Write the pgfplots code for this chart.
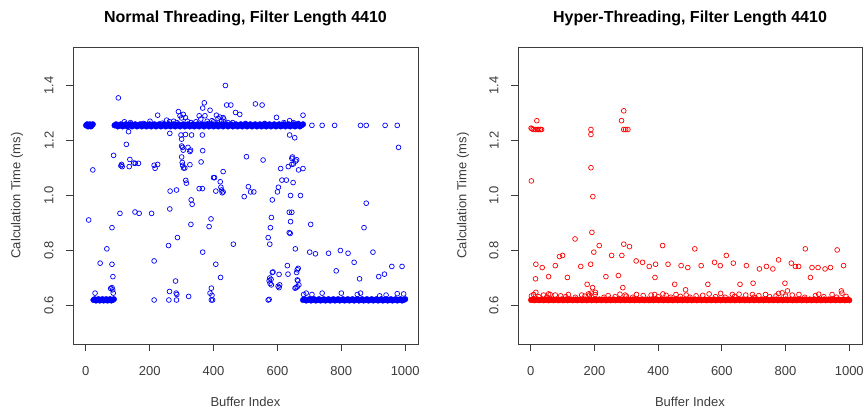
\documentclass[border=0pt]{standalone}
\usepackage{fontspec}
\setmainfont{Liberation Sans}
\usepackage{pgfplots}
\pgfplotsset{compat=1.18}

\definecolor{rblue}{RGB}{0,0,255}
\definecolor{rred}{RGB}{255,0,0}
\definecolor{rgray}{RGB}{60,60,60}

\pgfplotsset{
  rbase/.style={
    scale only axis,
    anchor=south west,
    xmin=-40, xmax=1040, ymin=0.46, ymax=1.54,
    xtick={0,200,400,600,800,1000},
    xticklabels={0,200,400,600,800,1000},
    ytick={0.6,0.8,1.0,1.2,1.4},
    yticklabels={0.6,0.8,1.0,1.2,1.4},
    tick pos=left, tick align=outside,
    major tick length=7pt,
    axis line style={rgray, line width=0.8pt},
    tick style={rgray, line width=0.8pt},
    ticklabel style={font=\fontsize{13}{15}\selectfont, text=rgray},
    xticklabel style={anchor=center, yshift=-20pt},
    yticklabel style={anchor=center, xshift=-17pt, rotate=90},
    label style={font=\fontsize{13}{15}\selectfont, text=rgray},
    xlabel={Buffer Index},
    ylabel={Calculation Time (ms)},
    xlabel style={at={(axis description cs:0.5,-0.195)}, anchor=center},
    title style={at={(axis description cs:0.5,1.077)}, anchor=center,
      font=\fontsize{16}{19}\selectfont\bfseries},
    clip=false,
  },
  % single buffers: open circles
  rmark/.style={only marks, mark=o, mark size=2.4pt,
    mark options={line width=0.7pt, draw=#1}, color=#1},
  % long runs of buffers: the open circles overlap into a solid band
  rband/.style={only marks, mark=*, mark size=2.8pt,
    mark options={draw=none, fill=#1}, color=#1},
}

\begin{document}
\begin{tikzpicture}
\useasboundingbox (0pt,0pt) rectangle (866pt,412pt);

\begin{axis}[rbase, at={(73pt,68pt)}, width=345pt, height=297pt,
  ylabel style={at={(axis description cs:-0.162,0.5)}, anchor=center},
  title={Normal Threading, Filter Length 4410}]
% dense runs
\addplot[rband=rblue] coordinates {
(1,1.255)(4,1.259)(7,1.251)(10,1.255)(13,1.259)(16,1.251)(19,1.255)(22,1.259)
(24,0.62)(28,0.623)(32,0.618)(36,0.62)(40,0.623)(44,0.618)(48,0.62)(52,0.623)(56,0.618)(60,0.62)(64,0.623)(68,0.618)(72,0.62)(76,0.623)(80,0.618)(84,0.62)(88,0.623)
(90,1.255)(95,1.259)(100,1.251)(105,1.255)(110,1.259)(115,1.251)(120,1.255)(125,1.259)(130,1.251)(135,1.255)(140,1.259)(145,1.251)(150,1.255)(155,1.259)(160,1.251)(165,1.255)(170,1.259)(175,1.251)(180,1.255)(185,1.259)(190,1.251)(195,1.255)(200,1.259)(205,1.251)(210,1.255)(215,1.259)(220,1.251)(225,1.255)(230,1.259)(235,1.251)(240,1.255)(245,1.259)(250,1.251)(255,1.255)(260,1.259)(265,1.251)(270,1.255)(275,1.259)(280,1.251)(285,1.255)(290,1.259)(295,1.251)(300,1.255)(305,1.259)(310,1.251)(315,1.255)(320,1.259)(325,1.251)(330,1.255)(335,1.259)(340,1.251)(345,1.255)(350,1.259)(355,1.251)(360,1.255)(365,1.259)(370,1.251)(375,1.255)(380,1.259)(385,1.251)(390,1.255)(395,1.259)(400,1.251)(405,1.255)(410,1.259)(415,1.251)(420,1.255)(425,1.259)(430,1.251)(435,1.255)(440,1.259)(445,1.251)(450,1.255)(455,1.259)(460,1.251)(465,1.255)(470,1.259)(475,1.251)(480,1.255)(485,1.259)(490,1.251)(495,1.255)(500,1.259)(505,1.251)(510,1.255)(515,1.259)(520,1.251)(525,1.255)(530,1.259)(535,1.251)(540,1.255)(545,1.259)(550,1.251)(555,1.255)(560,1.259)(565,1.251)(570,1.255)(575,1.259)(580,1.251)(585,1.255)(590,1.259)(595,1.251)(600,1.255)(605,1.259)(610,1.251)(615,1.255)(620,1.259)(625,1.251)(630,1.255)(635,1.259)(640,1.251)(645,1.255)(650,1.259)(655,1.251)(660,1.255)(665,1.259)(670,1.251)(675,1.255)(680,1.259)
(680,0.62)(685,0.623)(690,0.618)(695,0.62)(700,0.623)(705,0.618)(710,0.62)(715,0.623)(720,0.618)(725,0.62)(730,0.623)(735,0.618)(740,0.62)(745,0.623)(750,0.618)(755,0.62)(760,0.623)(765,0.618)(770,0.62)(775,0.623)(780,0.618)(785,0.62)(790,0.623)(795,0.618)(800,0.62)(805,0.623)(810,0.618)(815,0.62)(820,0.623)(825,0.618)(830,0.62)(835,0.623)(840,0.618)(845,0.62)(850,0.623)(855,0.618)(860,0.62)(865,0.623)(870,0.618)(875,0.62)(880,0.623)(885,0.618)(890,0.62)(895,0.623)(900,0.618)(905,0.62)(910,0.623)(915,0.618)(920,0.62)(925,0.623)(930,0.618)(935,0.62)(940,0.623)(945,0.618)(950,0.62)(955,0.623)(960,0.618)(965,0.62)(970,0.623)(975,0.618)(980,0.62)(985,0.623)(990,0.618)(995,0.62)(1000,0.623)
};
% scattered buffers
\addplot[rmark=rblue] coordinates {
(102,1.355)(121,1.268)(201,1.27)(225,1.292)(253,1.274)(262,1.268)(290,1.305)(295,1.29)(300,1.282)(305,1.295)(312,1.283)(318,1.27)(355,1.29)(360,1.278)(366,1.318)(371,1.337)(373,1.29)(380,1.27)(389,1.31)(395,1.272)(409,1.292)(414,1.28)(420,1.285)(425,1.272)(430,1.283)(432,1.278)(437,1.4)(441,1.329)(454,1.329)(460,1.265)(469,1.302)(482,1.295)(531,1.333)(552,1.329)(597,1.284)(638,1.272)(680,1.292)
(140,1.265)(180,1.262)(240,1.263)(275,1.27)(285,1.265)(330,1.265)(345,1.268)(385,1.262)(400,1.268)(445,1.265)(500,1.262)(560,1.262)(620,1.265)(650,1.265)(665,1.262)
(127,1.186)(134,1.232)(263,1.226)(298,1.22)(300,1.205)(312,1.222)(331,1.22)(365,1.22)(638,1.22)(654,1.21)(979,1.175)
(87,1.146)(300,1.18)(303,1.175)(305,1.165)(320,1.175)(326,1.16)(328,1.165)(366,1.163)(645,1.135)(647,1.14)(657,1.125)(660,1.13)(503,1.141)(555,1.129)
(22,1.093)(110,1.108)(112,1.113)(114,1.105)(136,1.105)(138,1.131)(150,1.118)(155,1.117)(165,1.117)(214,1.11)(217,1.099)(225,1.113)(300,1.14)(302,1.12)(303,1.11)(306,1.1)(310,1.1)(326,1.112)(361,1.122)(430,1.087)(610,1.098)(634,1.105)(645,1.113)(650,1.115)(666,1.093)(680,1.098)
(313,1.055)(315,1.045)(400,1.065)(403,1.065)(421,1.05)(423,1.03)(264,1.016)(284,1.02)(355,1.025)(365,1.025)(407,1.016)(425,1.02)(427,1.01)(430,1.013)(496,0.996)(509,1.032)(516,1.013)(526,1.013)(600,1.013)(603,1.03)(614,1.056)(628,1.056)(641,1.0)(649,1.047)(672,1.0)
(9,0.911)(107,0.935)(154,0.94)(167,0.935)(206,0.935)(263,0.951)(330,0.984)(333,0.968)(329,0.895)(392,0.915)(386,0.887)(584,0.984)(581,0.92)(578,0.883)(637,0.939)(645,0.939)(641,0.905)(637,0.865)(640,0.862)(704,0.895)(871,0.883)(878,0.972)
(66,0.806)(82,0.883)(259,0.818)(287,0.847)(462,0.823)(571,0.847)(576,0.823)(656,0.806)
(45,0.754)(82,0.75)(85,0.705)(214,0.762)(366,0.794)(407,0.75)(422,0.702)(281,0.689)(701,0.794)(719,0.788)(760,0.79)(784,0.726)(797,0.8)(821,0.79)(840,0.757)(857,0.697)(899,0.794)(917,0.705)(935,0.714)(958,0.742)(990,0.742)(631,0.745)(633,0.714)(584,0.72)(586,0.722)(660,0.72)(662,0.73)(665,0.735)(605,0.713)(576,0.7)(574,0.69)(580,0.695)
(29,0.645)(78,0.662)(82,0.665)(84,0.657)(86,0.645)(262,0.651)(283,0.645)(285,0.64)(322,0.633)(389,0.645)(393,0.663)(395,0.637)(577,0.68)(581,0.675)(602,0.67)(605,0.665)(607,0.675)(662,0.693)(664,0.69)(662,0.668)(667,0.675)(655,0.663)(658,0.665)(682,0.64)(690,0.645)(708,0.64)(740,0.645)(800,0.645)(850,0.64)(975,0.643)(995,0.642)(860,0.645)(920,0.635)(940,0.638)
(214,0.62)(260,0.62)(284,0.62)(393,0.62)(397,0.62)(571,0.62)(574,0.622)
(708,1.255)(740,1.255)(779,1.255)(860,1.255)(878,1.255)(937,1.255)(975,1.255)
};
\end{axis}

\begin{axis}[rbase, at={(518pt,68pt)}, width=344pt, height=297pt,
  ylabel style={at={(axis description cs:-0.16,0.5)}, anchor=center},
  title={Hyper-Threading, Filter Length 4410}]
% dense baseline
\addplot[rband=rred] coordinates {
(1,0.62)(6,0.622)(11,0.619)(16,0.62)(21,0.622)(26,0.619)(31,0.62)(36,0.622)(41,0.619)(46,0.62)(51,0.622)(56,0.619)(61,0.62)(66,0.622)(71,0.619)(76,0.62)(81,0.622)(86,0.619)(91,0.62)(96,0.622)(101,0.619)(106,0.62)(111,0.622)(116,0.619)(121,0.62)(126,0.622)(131,0.619)(136,0.62)(141,0.622)(146,0.619)(151,0.62)(156,0.622)(161,0.619)(166,0.62)(171,0.622)(176,0.619)(181,0.62)(186,0.622)(191,0.619)(196,0.62)(201,0.622)(206,0.619)(211,0.62)(216,0.622)(221,0.619)(226,0.62)(231,0.622)(236,0.619)(241,0.62)(246,0.622)(251,0.619)(256,0.62)(261,0.622)(266,0.619)(271,0.62)(276,0.622)(281,0.619)(286,0.62)(291,0.622)(296,0.619)(301,0.62)(306,0.622)(311,0.619)(316,0.62)(321,0.622)(326,0.619)(331,0.62)(336,0.622)(341,0.619)(346,0.62)(351,0.622)(356,0.619)(361,0.62)(366,0.622)(371,0.619)(376,0.62)(381,0.622)(386,0.619)(391,0.62)(396,0.622)(401,0.619)(406,0.62)(411,0.622)(416,0.619)(421,0.62)(426,0.622)(431,0.619)(436,0.62)(441,0.622)(446,0.619)(451,0.62)(456,0.622)(461,0.619)(466,0.62)(471,0.622)(476,0.619)(481,0.62)(486,0.622)(491,0.619)(496,0.62)(501,0.622)(506,0.619)(511,0.62)(516,0.622)(521,0.619)(526,0.62)(531,0.622)(536,0.619)(541,0.62)(546,0.622)(551,0.619)(556,0.62)(561,0.622)(566,0.619)(571,0.62)(576,0.622)(581,0.619)(586,0.62)(591,0.622)(596,0.619)(601,0.62)(606,0.622)(611,0.619)(616,0.62)(621,0.622)(626,0.619)(631,0.62)(636,0.622)(641,0.619)(646,0.62)(651,0.622)(656,0.619)(661,0.62)(666,0.622)(671,0.619)(676,0.62)(681,0.622)(686,0.619)(691,0.62)(696,0.622)(701,0.619)(706,0.62)(711,0.622)(716,0.619)(721,0.62)(726,0.622)(731,0.619)(736,0.62)(741,0.622)(746,0.619)(751,0.62)(756,0.622)(761,0.619)(766,0.62)(771,0.622)(776,0.619)(781,0.62)(786,0.622)(791,0.619)(796,0.62)(801,0.622)(806,0.619)(811,0.62)(816,0.622)(821,0.619)(826,0.62)(831,0.622)(836,0.619)(841,0.62)(846,0.622)(851,0.619)(856,0.62)(861,0.622)(866,0.619)(871,0.62)(876,0.622)(881,0.619)(886,0.62)(891,0.622)(896,0.619)(901,0.62)(906,0.622)(911,0.619)(916,0.62)(921,0.622)(926,0.619)(931,0.62)(936,0.622)(941,0.619)(946,0.62)(951,0.622)(956,0.619)(961,0.62)(966,0.622)(971,0.619)(976,0.62)(981,0.622)(986,0.619)(991,0.62)(996,0.622)(1000,0.619)
};
% scattered buffers
\addplot[rmark=rred] coordinates {
(1,1.245)(4,1.243)(8,1.24)(15,1.24)(20,1.24)(25,1.24)(30,1.24)(34,1.24)(19,1.272)(2,1.053)
(189,1.24)(189,1.222)(189,1.101)(195,0.996)(192,0.866)
(285,1.272)(292,1.308)(292,1.24)(298,1.24)(305,1.24)
(16,0.75)(15,0.697)(16,0.648)(2,0.635)(36,0.738)(56,0.705)(77,0.745)(90,0.778)(100,0.782)(115,0.702)(139,0.842)(157,0.742)(177,0.677)(188,0.75)(194,0.665)(198,0.794)(203,0.648)(215,0.818)(236,0.705)(254,0.782)(275,0.709)(286,0.782)(289,0.665)(292,0.823)(310,0.814)(331,0.762)(351,0.757)(372,0.742)(392,0.75)(390,0.702)(414,0.818)(431,0.75)(452,0.677)(472,0.745)(486,0.657)(493,0.738)(515,0.806)(535,0.745)(556,0.677)(577,0.757)(595,0.745)(614,0.782)(636,0.754)(657,0.677)(677,0.745)(698,0.681)(718,0.733)(740,0.742)(760,0.733)(778,0.766)(798,0.681)(806,0.653)(818,0.754)(831,0.742)(841,0.742)(862,0.806)(878,0.702)(883,0.738)(902,0.738)(924,0.733)(941,0.738)(962,0.802)(982,0.745)(975,0.653)
(9,0.64)(40,0.638)(56,0.642)(61,0.64)(77,0.638)(94,0.635)(118,0.64)(160,0.638)(181,0.642)(202,0.64)(243,0.636)(280,0.641)(296,0.638)(332,0.64)(353,0.636)(378,0.638)(389,0.64)(415,0.642)(425,0.637)(456,0.64)(488,0.638)(519,0.635)(540,0.637)(560,0.642)(596,0.644)(633,0.64)(654,0.641)(675,0.638)(696,0.64)(716,0.636)(737,0.64)(778,0.644)(789,0.646)(821,0.638)(842,0.64)(894,0.636)(904,0.641)(946,0.64)(977,0.645)
(25,0.632)(50,0.63)(110,0.632)(140,0.63)(170,0.634)(185,0.638)(190,0.645)(230,0.63)(265,0.632)(300,0.634)(320,0.63)(400,0.632)(440,0.63)(470,0.633)(500,0.63)(580,0.632)(610,0.63)(640,0.633)(700,0.63)(750,0.632)(770,0.635)(800,0.634)(860,0.63)(920,0.632)(960,0.63)(990,0.633)
};
\end{axis}
\end{tikzpicture}
\end{document}
